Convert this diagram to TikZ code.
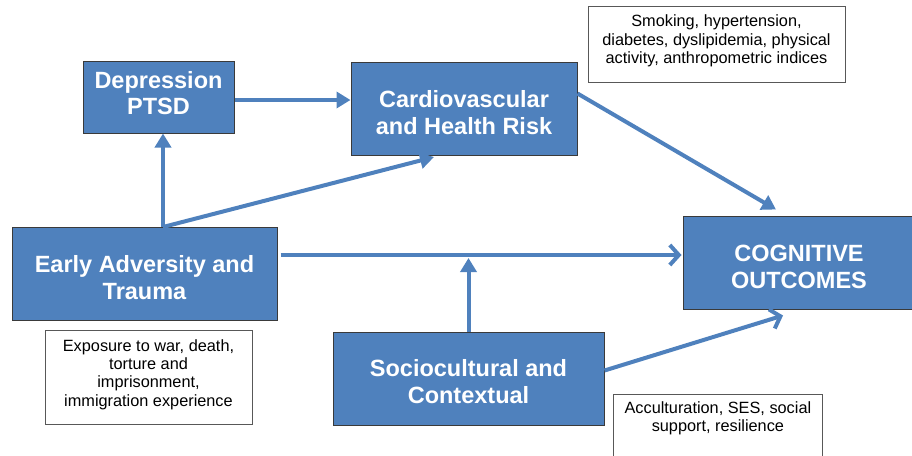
\documentclass[tikz,border=0pt]{standalone}
\usepackage{fontspec}
\setmainfont{Liberation Sans}
\usetikzlibrary{arrows.meta}
\definecolor{boxblue}{HTML}{4F81BD}
\definecolor{edgegray}{HTML}{3A3A3A}
\newcommand{\lowerby}{\rule{0pt}{26pt}}
\newcommand{\raiseby}[1]{\rule[-#1]{0pt}{1pt}}
\begin{document}
\begin{tikzpicture}[x=1pt,y=-1pt,
  bluebox/.style={draw=edgegray, line width=1pt, fill=boxblue, text=white,
    font=\bfseries\fontsize{23.5}{27}\selectfont, align=center, inner sep=0pt},
  notebox/.style={draw=edgegray!85, line width=0.8pt, fill=white,
    font=\fontsize{16.3}{18.3}\selectfont, align=center, inner sep=0pt},
  notetext/.style={font=\fontsize{16.3}{18.5}\selectfont, align=center, inner sep=0pt},
  link/.style={draw=boxblue, line width=4pt},
  solidhead/.style={-{Triangle[length=14pt,width=16pt]}},
  openhead/.style={-{Straight Barb[length=9pt,width=20pt]}}
]
\useasboundingbox (0,0) rectangle (912,455);

% blue boxes
\node[bluebox, font=\bfseries\fontsize{23.5}{26}\selectfont, minimum width=151pt, minimum height=72pt] (dep) at (158.5,97) {Depression\\PTSD\raiseby{9pt}};
\node[bluebox, minimum width=226pt, minimum height=93pt] (cv) at (464,108.5) {\lowerby Cardiovascular\\and Health Risk};
\node[bluebox, minimum width=265pt, minimum height=93pt] (ea) at (144.5,273.5) {\lowerby Early Adversity and\\Trauma};
\node[bluebox, minimum width=232pt, minimum height=93pt] (cog) at (799,262.5) {\lowerby COGNITIVE\\OUTCOMES};
\node[bluebox, minimum width=271pt, minimum height=93pt] (soc) at (468.5,378.5) {\rule{0pt}{24pt}Sociocultural and\\Contextual};

% note boxes
\node[notebox, minimum width=257pt, minimum height=76pt] (smk) at (716.5,44)
  {Smoking, hypertension,\\diabetes, dyslipidemia, physical\\activity, anthropometric indices\raiseby{9.4pt}};
\node[notebox, minimum width=207pt, minimum height=94pt] (exp) at (148.5,377)
  {Exposure to war, death,\\torture and\\imprisonment,\\immigration experience\raiseby{8.4pt}};
\node[notebox, anchor=north west, minimum width=209pt, minimum height=80pt] (acc) at (613,394) {};
\node[notetext, anchor=north] (acctxt) at ([yshift=-7pt]acc.north) {Acculturation, SES, social\\support, resilience};

% connectors
\coordinate (j) at (163,227);
\coordinate (cvin) at (434,157);
\coordinate (m) at (468.5,258);

\draw[link, solidhead] (j) -- (j |- dep.south);
\draw[link, solidhead] (j) -- (cvin);
\draw[link, solidhead] ([yshift=-3pt]dep.east) -- ([yshift=-3pt]dep.east -| cv.west);
\draw[link, solidhead] ([yshift=15pt]cv.east) -- ([xshift=-23pt,yshift=6pt]cog.north);
\draw[link, openhead] ([xshift=3pt,yshift=18.5pt]ea.east) -- ([xshift=-1pt,yshift=18.5pt]ea.east -| cog.west);
\draw[link, solidhead] (soc.north) -- (m);
\draw[link, openhead] ([yshift=8pt]soc.east) -- ([xshift=-16pt,yshift=-6pt]cog.south);
\end{tikzpicture}
\end{document}
